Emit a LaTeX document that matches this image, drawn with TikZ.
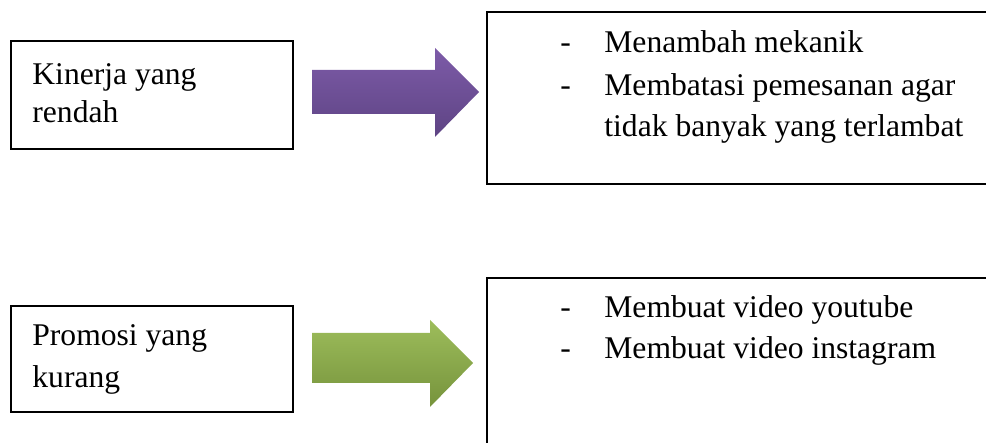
\documentclass[tikz,border=0pt]{standalone}
\usepackage{fontspec}
\setmainfont{Liberation Serif}
\usetikzlibrary{positioning,fit}

\definecolor{ungutop}{HTML}{7D5BA8}
\definecolor{ungubot}{HTML}{5E4484}
\definecolor{hijautop}{HTML}{9DBD5B}
\definecolor{hijaubot}{HTML}{76933C}

\begin{document}
\begin{tikzpicture}[x=0.5pt,y=-0.5pt,
        kotak/.style={draw,line width=0.6pt,rectangle,inner sep=0pt},
        tulis/.style={anchor=base west,inner sep=0pt,font=\fontsize{15.8}{19}\selectfont}]
        \useasboundingbox (0,0) rectangle (986,443);
        \clip (0,0) rectangle (986,443);

        \coordinate (K1a) at (11,41);
        \coordinate (K1b) at (293,149);
        \coordinate (K2a) at (487,12);
        \coordinate (K2b) at (1000,184);
        \coordinate (K3a) at (11,306);
        \coordinate (K3b) at (293,412);
        \coordinate (K4a) at (487,278);
        \coordinate (K4b) at (1000,460);

        \node[kotak,fit=(K1a)(K1b)] (masalah1) {};
        \node[kotak,fit=(K2a)(K2b)] (solusi1)  {};
        \node[kotak,fit=(K3a)(K3b)] (masalah2) {};
        \node[kotak,fit=(K4a)(K4b)] (solusi2)  {};

        % panah
        \shade[top color=ungutop,bottom color=ungubot]
            (312,70) -- (435,70) -- (435,48) -- (479,92) -- (435,137) -- (435,114) -- (312,114) -- cycle;
        \shade[top color=hijautop,bottom color=hijaubot]
            (312,333) -- (430,333) -- (430,320) -- (473,363) -- (430,407) -- (430,383) -- (312,383) -- cycle;

        \node[tulis] (m1a) at (32,85)  {Kinerja yang};
        \node[tulis] (m1b) at (32,123) {rendah};
        \node[tulis] (m2a) at (32,346) {Promosi yang};
        \node[tulis] (m2b) at (32,387) {kurang};

        \node[tulis] (d1) at (560,53)  {-};
        \node[tulis] (s1) at (604,53)  {Menambah mekanik};
        \node[tulis] (d2) at (560,96)  {-};
        \node[tulis] (s2) at (604,96)  {Membatasi pemesanan agar};
        \node[tulis] (s3) at (604,137) {tidak banyak yang terlambat};

        \node[tulis] (d3) at (560,318) {-};
        \node[tulis] (s4) at (604,318) {Membuat video youtube};
        \node[tulis] (d4) at (560,358) {-};
        \node[tulis] (s5) at (604,358) {Membuat video instagram};
\end{tikzpicture}
\end{document}
